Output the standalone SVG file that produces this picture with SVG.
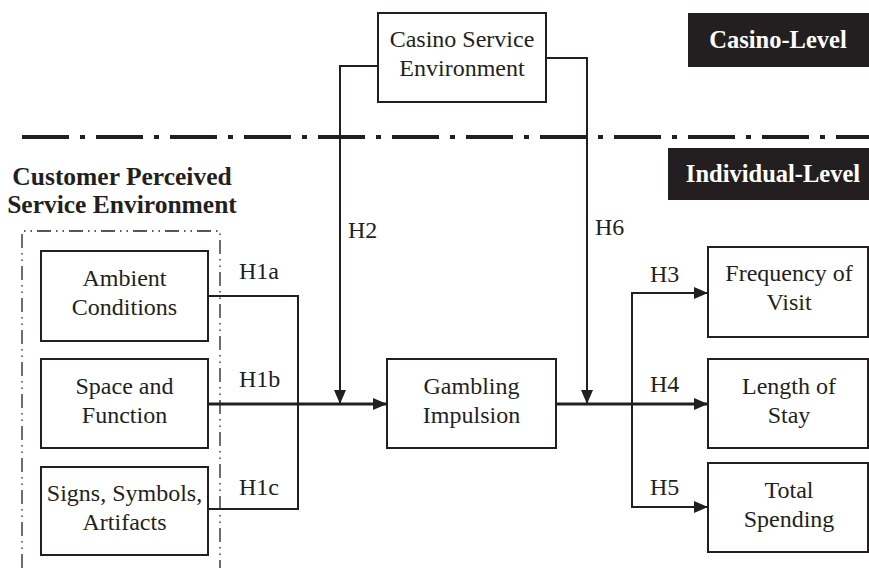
<svg xmlns="http://www.w3.org/2000/svg" width="869" height="568" viewBox="0 0 869 568">
<defs>
<style>
.box{fill:#fff;stroke:#231f20;stroke-width:2}
.t{font-family:"Liberation Serif","Times New Roman",serif;font-size:24px;fill:#231f20;text-anchor:middle}
.lbl{font-family:"Liberation Serif","Times New Roman",serif;font-size:24px;fill:#231f20}
.hd{font-family:"Liberation Serif","Times New Roman",serif;font-size:25.5px;font-weight:bold;fill:#231f20;text-anchor:middle}
.wh{font-family:"Liberation Serif","Times New Roman",serif;font-size:24.5px;font-weight:bold;fill:#fff;text-anchor:middle}
.ln{fill:none;stroke:#231f20;stroke-width:2}
.main{fill:none;stroke:#231f20;stroke-width:3}
</style>
<marker id="arr" viewBox="0 0 14 12" refX="14" refY="6" markerWidth="14" markerHeight="12" markerUnits="userSpaceOnUse" orient="auto">
<path d="M0,0 L14,6 L0,12 Z" fill="#231f20"/>
</marker>
</defs>
<rect width="869" height="568" fill="#fff"/>

<g id="level-divider">
<line x1="22" y1="137" x2="869" y2="137" stroke="#231f20" stroke-width="4" stroke-dasharray="47 11 5 11"/>
</g>

<g id="casino-level">
<rect x="688" y="13" width="181" height="54" fill="#231f20"/>
<text class="wh" x="778" y="48">Casino-Level</text>
</g>
<g id="individual-level">
<rect x="668" y="148" width="201" height="52" fill="#231f20"/>
<text class="wh" x="773" y="182">Individual-Level</text>
</g>

<g id="cpse-group">
<text class="hd" x="122" y="185">Customer Perceived</text>
<text class="hd" x="122" y="213">Service Environment</text>
<path d="M22,568 V231 H220 V568" fill="none" stroke="#231f20" stroke-width="1.3" stroke-dasharray="14 5 1.5 5 1.5 5"/>
</g>

<g id="connectors">
<path class="ln" d="M208,296 H298 V404"/>
<path class="ln" d="M208,509 H298 V404"/>
<path class="main" d="M208,404 H387" marker-end="url(#arr)"/>
<path class="ln" d="M379,66 H340 V404" marker-end="url(#arr)"/>
<path class="ln" d="M547,58 H587 V404" marker-end="url(#arr)"/>
<path class="main" d="M556,404 H708" marker-end="url(#arr)"/>
<path class="ln" d="M632,404 V293 H708" marker-end="url(#arr)"/>
<path class="ln" d="M632,404 V507 H708" marker-end="url(#arr)"/>
<text class="lbl" x="239" y="279">H1a</text>
<text class="lbl" x="239" y="387">H1b</text>
<text class="lbl" x="239" y="495">H1c</text>
<text class="lbl" x="348" y="238">H2</text>
<text class="lbl" x="595" y="235">H6</text>
<text class="lbl" x="650" y="282">H3</text>
<text class="lbl" x="650" y="392">H4</text>
<text class="lbl" x="650" y="495">H5</text>
</g>

<g id="casino-service-environment">
<rect class="box" x="378" y="13" width="168" height="89"/>
<text class="t" x="462" y="47">Casino Service</text>
<text class="t" x="462" y="76">Environment</text>
</g>

<g id="ambient-conditions">
<rect class="box" x="41" y="251" width="167" height="90"/>
<text class="t" x="124.5" y="286">Ambient</text>
<text class="t" x="124.5" y="315">Conditions</text>
</g>
<g id="space-and-function">
<rect class="box" x="41" y="359" width="167" height="89"/>
<text class="t" x="124.5" y="393.5">Space and</text>
<text class="t" x="124.5" y="422.5">Function</text>
</g>
<g id="signs-symbols-artifacts">
<rect class="box" x="41" y="467" width="167" height="88"/>
<text class="t" x="124.5" y="501">Signs, Symbols,</text>
<text class="t" x="124.5" y="530">Artifacts</text>
</g>

<g id="gambling-impulsion">
<rect class="box" x="387" y="359" width="169" height="89"/>
<text class="t" x="471.5" y="393.5">Gambling</text>
<text class="t" x="471.5" y="422.5">Impulsion</text>
</g>

<g id="frequency-of-visit">
<rect class="box" x="708" y="247" width="160" height="90"/>
<text class="t" x="789" y="281">Frequency of</text>
<text class="t" x="789" y="310">Visit</text>
</g>
<g id="length-of-stay">
<rect class="box" x="708" y="359" width="160" height="89"/>
<text class="t" x="789" y="393.5">Length of</text>
<text class="t" x="789" y="422.5">Stay</text>
</g>
<g id="total-spending">
<rect class="box" x="708" y="463" width="160" height="89"/>
<text class="t" x="789" y="497.5">Total</text>
<text class="t" x="789" y="526.5">Spending</text>
</g>
</svg>
